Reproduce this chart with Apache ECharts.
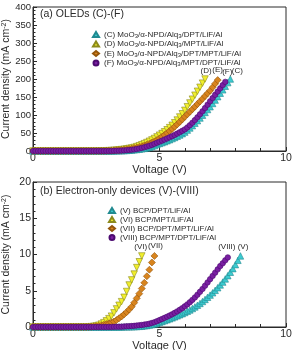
<!DOCTYPE html>
<html>
<head>
<meta charset="utf-8">
<script src="https://cdn.jsdelivr.net/npm/echarts@6/dist/echarts.min.js"></script>
<style>
  html, body { margin: 0; padding: 0; background: #fff; }
  #chart { width: 292px; height: 350px; }
</style>
</head>
<body>
<div id="chart"></div>
<script>
// voltage grid (V), shared by all devices
var volts = [0.0, 0.1, 0.2, 0.3, 0.4, 0.5, 0.6, 0.7, 0.8, 0.9,
  1.0, 1.1, 1.2, 1.3, 1.4, 1.5, 1.6, 1.7, 1.8, 1.9,
  2.0, 2.1, 2.2, 2.3, 2.4, 2.5, 2.6, 2.7, 2.8, 2.9,
  3.0, 3.1, 3.2, 3.3, 3.4, 3.5, 3.6, 3.7, 3.8, 3.9,
  4.0, 4.1, 4.2, 4.3, 4.4, 4.5, 4.6, 4.7, 4.8, 4.9,
  5.0, 5.1, 5.2, 5.3, 5.4, 5.5, 5.6, 5.7, 5.8, 5.9,
  6.0, 6.1, 6.2, 6.3, 6.4, 6.5, 6.6, 6.7, 6.8, 6.9,
  7.0, 7.1, 7.2, 7.3, 7.4, 7.5, 7.6, 7.7, 7.8, 7.9,
  8.0, 8.1, 8.2];

// (a) OLEDs, current density in mA cm-2
var oledC = [0, 0, 0, 0, 0, 0, 0, 0, 0, 0, 0, 0, 0, 0, 0, 0, 0, 0, 0, 0,
  0, 0, 0, 0, 0, 0, 0, 0, 0, 0,
  0.1, 0.2, 0.3, 0.4, 0.6, 0.8, 1.1, 1.5, 2.0, 2.6,
  3.3, 4.1, 5.0, 6.0, 7.2, 8.6, 10.3, 12.4, 15.0, 18.0,
  21, 23.3, 25.8, 28.5, 31.4, 34.5, 37.6, 40.9, 44.4, 48.2,
  52.5, 58, 64, 70.4, 77.2, 84.3, 91.7, 99.4, 107.2, 115.2,
  123, 132, 141.5, 151, 160.5, 170, 180, 190, 200];
var oledD = [0, 0, 0, 0, 0, 0, 0, 0, 0, 0, 0, 0, 0, 0, 0, 0, 0, 0, 0, 0,
  0, 0, 0, 0, 0, 0.1, 0.2, 0.3, 0.5, 0.7,
  1.0, 1.4, 1.9, 2.5, 3.2, 4.0, 4.9, 6.0, 7.2, 8.5,
  10, 12.2, 14.7, 17.4, 20.4, 23.6, 27.1, 30.8, 34.8, 39.2,
  44, 48.5, 53.5, 59, 65, 71.5, 78.5, 86, 94.5, 103.5,
  113, 123, 133.5, 144, 155, 166, 177, 188.5, 200];
var oledE = [0, 0, 0, 0, 0, 0, 0, 0, 0, 0, 0, 0, 0, 0, 0, 0, 0, 0, 0, 0,
  0, 0, 0, 0, 0, 0, 0, 0.1, 0.2, 0.4,
  0.6, 0.9, 1.3, 1.8, 2.4, 3.0, 3.8, 4.7, 5.7, 6.8,
  8.0, 9.5, 11.2, 13.1, 15.2, 17.6, 20.3, 23.3, 26.7, 30.5,
  35, 39.5, 44.5, 49.8, 55.4, 61.3, 67.5, 74, 80.8, 87.8,
  95, 101.9, 108.9, 116, 123.2, 130.5, 137.8, 145.2, 152.7, 160.2,
  167.7, 177, 187, 197];
var oledF = [0, 0, 0, 0, 0, 0, 0, 0, 0, 0, 0, 0, 0, 0, 0, 0, 0, 0, 0, 0,
  0, 0, 0, 0, 0, 0, 0, 0, 0, 0.1,
  0.2, 0.3, 0.5, 0.7, 1.0, 1.3, 1.7, 2.2, 2.8, 3.5,
  4.3, 5.5, 6.9, 8.5, 10.3, 12.3, 14.5, 17.0, 19.8, 23.0,
  26, 28.8, 31.7, 34.7, 37.9, 41.2, 44.7, 48.3, 52.1, 56,
  60, 65.5, 71.7, 78.5, 85.8, 93.6, 101.8, 110.4, 119.3, 128.5,
  138, 147, 156, 165, 174, 183, 192];

// (b) electron-only devices
var eoV = [0, 0, 0, 0, 0, 0, 0, 0, 0, 0, 0, 0, 0, 0, 0, 0, 0, 0, 0, 0,
  0, 0, 0, 0, 0, 0, 0, 0, 0, 0, 0, 0, 0, 0, 0,
  0.01, 0.02, 0.02, 0.03, 0.04,
  0.05, 0.07, 0.09, 0.12, 0.16, 0.2, 0.26, 0.33, 0.42, 0.52,
  0.64, 0.76, 0.88, 1.0, 1.13, 1.26, 1.4, 1.54, 1.69, 1.84,
  2.0, 2.17, 2.35, 2.55, 2.77, 3.0, 3.25, 3.52, 3.8, 4.1,
  4.4, 4.72, 5.06, 5.42, 5.8, 6.2, 6.63, 7.08, 7.55, 8.05,
  8.6, 9.2, 9.8];
var eoVI = [0, 0, 0, 0, 0, 0, 0, 0, 0, 0, 0, 0, 0, 0, 0, 0, 0, 0, 0, 0,
  0, 0, 0.02, 0.05, 0.1, 0.15, 0.25, 0.4, 0.6, 0.85,
  1.15, 1.5, 1.95, 2.5, 3.0, 3.5, 4.1, 4.9, 5.8, 6.5,
  7.3, 8.2, 9.0, 9.8];
var eoVII = [0, 0, 0, 0, 0, 0, 0, 0, 0, 0, 0, 0, 0, 0, 0, 0, 0, 0, 0, 0,
  0, 0, 0.02, 0.04, 0.07, 0.1, 0.15, 0.2, 0.3, 0.4,
  0.5, 0.62, 0.75, 0.95, 1.2, 1.45, 1.75, 2.05, 2.4, 2.8,
  3.35, 3.95, 4.6, 5.3, 6.1, 7.0, 7.9, 8.9, 9.8];
var eoVIII = [0, 0, 0, 0, 0, 0, 0, 0, 0, 0, 0, 0, 0, 0, 0, 0, 0, 0, 0, 0,
  0, 0, 0, 0, 0, 0, 0, 0, 0, 0,
  0.01, 0.01, 0.02, 0.03, 0.04, 0.05, 0.07, 0.09, 0.11, 0.13,
  0.16, 0.2, 0.24, 0.28, 0.33, 0.39, 0.46, 0.55, 0.66, 0.8,
  0.95, 1.1, 1.26, 1.42, 1.58, 1.75, 1.95, 2.15, 2.37, 2.6,
  2.85, 3.12, 3.42, 3.74, 4.08, 4.45, 4.85, 5.25, 5.7, 6.15,
  6.6, 7.05, 7.5, 7.95, 8.4, 8.8, 9.2, 9.6];

var oledNames = ['(C) MoO3/α-NPD/Alq3/DPT/LiF/Al', '(D) MoO3/α-NPD/Alq3/MPT/LiF/Al',
  '(E) MoO3/α-NPD/Alq3/DPT/MPT/LiF/Al', '(F) MoO3/α-NPD/Alq3/MPT/DPT/LiF/Al'];
var eoNames = ['(V) BCP/DPT/LiF/Al', '(VI) BCP/MPT/LiF/Al',
  '(VII) BCP/DPT/MPT/LiF/Al', '(VIII) BCP/MPT/DPT/LiF/Al'];
var endTags = ['(C)', '(D)', '(E)', '(F)', '(V)', '(VI)', '(VII)', '(VIII)'];

var font = 'Liberation Sans, Arial, sans-serif';
var ink = '#2a2a2a';

// fill / outline per marker kind: cyan up-triangle, yellow down-triangle, orange diamond, purple circle
var looks = [
  { symbol: 'triangle', rot: 0, size: 6.5, fill: '#3ccbd0', edge: '#208a90' },
  { symbol: 'triangle', rot: 180, size: 6.5, fill: '#f0ee2c', edge: '#8c8a1c' },
  { symbol: 'diamond', rot: 0, size: 7, fill: '#d8841e', edge: '#94560c' },
  { symbol: 'circle', rot: 0, size: 5.5, fill: '#7a1fa2', edge: '#4c0a70' }
];

// where each end tag sits relative to the last marker
var tagShift = [[7, 0], [1, 0], [0, -1], [2, -2.5], [2.5, -1], [-1, -1], [1, -1], [-1, -2.5]];

function pairs(vals, tagIdx) {
  var out = [];
  for (var i = 0; i < vals.length; i++) {
    out.push([volts[i], vals[i]]);
  }
  var last = out[out.length - 1];
  out[out.length - 1] = {
    value: last,
    label: {
      show: true, formatter: endTags[tagIdx], position: 'top', distance: 1,
      offset: tagShift[tagIdx], color: ink, fontSize: 8, fontFamily: font
    }
  };
  return out;
}

function mkSeries(name, vals, k, gi, tagIdx) {
  var lk = looks[k];
  return {
    name: name,
    type: 'scatter',
    xAxisIndex: gi,
    yAxisIndex: gi,
    symbol: lk.symbol,
    symbolRotate: lk.rot,
    symbolSize: lk.size,
    itemStyle: { color: lk.fill, borderColor: lk.edge, borderWidth: 0.6, opacity: 1 },
    emphasis: { disabled: true },
    data: pairs(vals, tagIdx),
    animation: false
  };
}

function subFmt(name) {
  return '{n|' + name.replace(/(MoO|Alq)3/g, '$1}{s|3}{n|') + '}';
}

function xAx(gi) {
  return {
    type: 'value', gridIndex: gi, min: 0, max: 10, interval: 5,
    name: 'Voltage (V)', nameLocation: 'middle', nameGap: 10,
    nameTextStyle: { fontSize: 11, color: ink, fontFamily: font },
    axisLine: { show: true, lineStyle: { color: ink, width: 1 } },
    axisTick: { show: true, inside: true, length: 4, lineStyle: { color: ink } },
    minorTick: { show: true, splitNumber: 5, length: 3, lineStyle: { color: ink } },
    axisLabel: { fontSize: 10.5, color: ink, fontFamily: font, margin: 2 },
    splitLine: { show: false }
  };
}

function yAx(gi, max, step, fs) {
  return {
    type: 'value', gridIndex: gi, min: 0, max: max, interval: step,
    name: '{n|Current density (mA cm}{s|-2}{n|)}',
    nameLocation: 'middle', nameRotate: 90, nameGap: 21, nameMoveOverlap: false,
    nameTextStyle: {
      color: ink, fontFamily: font,
      rich: {
        n: { fontSize: 10.5, lineHeight: 11, color: ink, fontFamily: font },
        s: { fontSize: 7, lineHeight: 11, verticalAlign: 'top', color: ink, fontFamily: font }
      }
    },
    axisLine: { show: true, lineStyle: { color: ink, width: 1 } },
    axisTick: { show: true, inside: true, length: 4, lineStyle: { color: ink } },
    minorTick: { show: true, splitNumber: 5, length: 2.5, lineStyle: { color: ink } },
    axisLabel: { fontSize: fs, color: ink, fontFamily: font, margin: 2 },
    splitLine: { show: false }
  };
}

function legendOf(names, left, top) {
  return {
    orient: 'vertical', left: left, top: top,
    data: names, itemWidth: 6, itemHeight: 5, itemGap: 1,
    selectedMode: false,
    formatter: subFmt,
    textStyle: {
      color: ink, fontFamily: font,
      rich: {
        n: { fontSize: 8, lineHeight: 9, color: ink, fontFamily: font },
        s: { fontSize: 6, lineHeight: 9, verticalAlign: 'bottom', color: ink, fontFamily: font }
      }
    }
  };
}

var chart = echarts.init(document.getElementById('chart'));
chart.setOption({
  animation: false,
  title: [
    { text: '(a) OLEDs (C)-(F)', left: 40, top: 9, padding: 0,
      textStyle: { fontSize: 10.5, fontWeight: 'normal', color: ink, fontFamily: font } },
    { text: '(b) Electron-only devices (V)-(VIII)', left: 40, top: 186, padding: 0,
      textStyle: { fontSize: 10.5, fontWeight: 'normal', color: ink, fontFamily: font } }
  ],
  legend: [
    legendOf(oledNames, 87, 25.5),
    legendOf(eoNames, 103, 201.5)
  ],
  grid: [
    { left: 33, top: 7, width: 253, height: 144, show: true, borderColor: ink, borderWidth: 1,
      outerBoundsMode: 'none', containLabel: false },
    { left: 33, top: 182, width: 253, height: 145, show: true, borderColor: ink, borderWidth: 1,
      outerBoundsMode: 'none', containLabel: false }
  ],
  xAxis: [xAx(0), xAx(1)],
  yAxis: [yAx(0, 400, 50, 9.5), yAx(1, 20, 5, 10.5)],
  series: [
    mkSeries(oledNames[0], oledC, 0, 0, 0),
    mkSeries(oledNames[1], oledD, 1, 0, 1),
    mkSeries(oledNames[2], oledE, 2, 0, 2),
    mkSeries(oledNames[3], oledF, 3, 0, 3),
    mkSeries(eoNames[0], eoV, 0, 1, 4),
    mkSeries(eoNames[1], eoVI, 1, 1, 5),
    mkSeries(eoNames[2], eoVII, 2, 1, 6),
    mkSeries(eoNames[3], eoVIII, 3, 1, 7)
  ]
});
</script>
</body>
</html>
